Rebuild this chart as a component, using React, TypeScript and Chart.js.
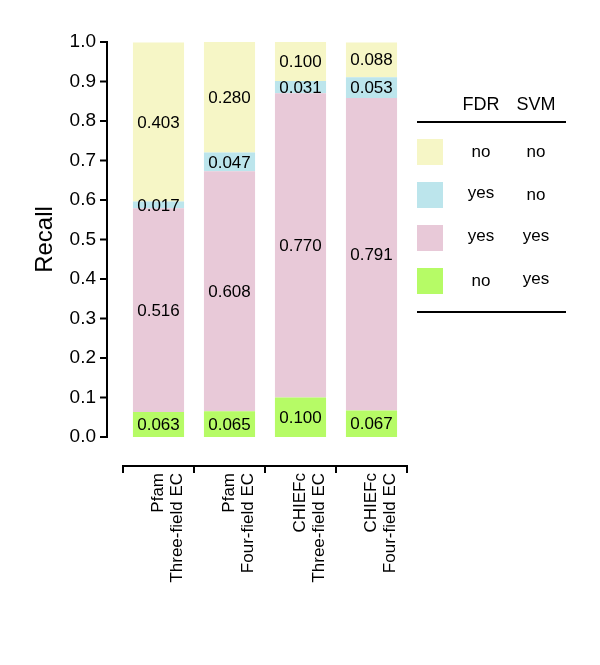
import React, { useEffect, useRef } from 'react';
import { Chart, registerables } from 'chart.js';
Chart.register(...registerables);

const categories = [
  ['Pfam', 'Three-field EC'],
  ['Pfam', 'Four-field EC'],
  ['CHIEFc', 'Three-field EC'],
  ['CHIEFc', 'Four-field EC'],
];
// stacked bottom to top
const fdrNoSvmYes = [0.063, 0.065, 0.1, 0.067];
const fdrYesSvmYes = [0.516, 0.608, 0.77, 0.791];
const fdrYesSvmNo = [0.017, 0.047, 0.031, 0.053];
const fdrNoSvmNo = [0.403, 0.28, 0.1, 0.088];

const legendFDR = ['no', 'yes', 'yes', 'no'];
const legendSVM = ['no', 'no', 'yes', 'yes'];
const legendColors = ['#f6f6c6', '#bce5ec', '#e8c9d8', '#b6fb66'];

const FONT = "'Liberation Sans', Arial, sans-serif";

const overlay = {
  id: 'overlay',
  afterDraw(chart: any) {
    const ctx = chart.ctx;
    const area = chart.chartArea;
    const yScale = chart.scales.y;
    const xScale = chart.scales.x;
    ctx.save();
    // value labels
    ctx.fillStyle = '#000';
    ctx.font = `17px ${FONT}`;
    ctx.textAlign = 'center';
    ctx.textBaseline = 'middle';
    chart.data.datasets.forEach((ds: any, di: number) => {
      const meta = chart.getDatasetMeta(di);
      meta.data.forEach((el: any, i: number) => {
        const cy = (el.y + el.base) / 2;
        ctx.fillText(Number(ds.data[i]).toFixed(3), el.x, cy + 1);
      });
    });
    // y axis line
    const ax = area.left - 16;
    ctx.strokeStyle = '#000';
    ctx.lineWidth = 2;
    ctx.beginPath();
    ctx.moveTo(ax, yScale.getPixelForValue(0) + 1);
    ctx.lineTo(ax, yScale.getPixelForValue(1) - 1);
    ctx.stroke();
    yScale.ticks.forEach((t: any) => {
      const py = yScale.getPixelForValue(t.value);
      ctx.beginPath();
      ctx.moveTo(ax - 7, py);
      ctx.lineTo(ax, py);
      ctx.stroke();
    });
    // x bracket
    const by = area.bottom + 29;
    const half = (xScale.getPixelForValue(1) - xScale.getPixelForValue(0)) / 2;
    ctx.beginPath();
    ctx.moveTo(xScale.getPixelForValue(0) - half - 1, by);
    ctx.lineTo(xScale.getPixelForValue(categories.length - 1) + half + 1, by);
    ctx.stroke();
    for (let i = 0; i <= categories.length; i++) {
      const px = xScale.getPixelForValue(0) - half + i * 2 * half;
      ctx.beginPath();
      ctx.moveTo(px, by - 1);
      ctx.lineTo(px, by + 7);
      ctx.stroke();
    }
    // legend table
    const lx = area.right + 10;
    const lw = 149;
    const c1 = lx + 64;
    const c2 = lx + 119;
    ctx.font = `18px ${FONT}`;
    ctx.textAlign = 'center';
    ctx.textBaseline = 'alphabetic';
    ctx.fillText('FDR', c1, 110);
    ctx.fillText('SVM', c2, 110);
    ctx.beginPath();
    ctx.moveTo(lx, 122);
    ctx.lineTo(lx + lw, 122);
    ctx.stroke();
    ctx.font = `17px ${FONT}`;
    for (let i = 0; i < legendColors.length; i++) {
      const cy = 152 + i * 43;
      ctx.fillStyle = legendColors[i];
      ctx.fillRect(lx, cy - 13, 26, 26);
      ctx.fillStyle = '#000';
      ctx.fillText(legendFDR[i], c1, cy + (legendFDR[i] === 'yes' ? 3 : 5));
      ctx.fillText(legendSVM[i], c2, cy + (legendSVM[i] === 'yes' ? 3 : 5));
    }
    ctx.beginPath();
    ctx.moveTo(lx, 312);
    ctx.lineTo(lx + lw, 312);
    ctx.stroke();
    ctx.restore();
  },
};

export default function App() {
  const ref = useRef<HTMLCanvasElement>(null);
  useEffect(() => {
    if (!ref.current) return;
    const chart = new Chart(ref.current, {
      type: 'bar',
      data: {
        labels: categories as any,
        datasets: [
          { label: 'FDR no, SVM yes', data: fdrNoSvmYes, backgroundColor: legendColors[3] },
          { label: 'FDR yes, SVM yes', data: fdrYesSvmYes, backgroundColor: legendColors[2] },
          { label: 'FDR yes, SVM no', data: fdrYesSvmNo, backgroundColor: legendColors[1] },
          { label: 'FDR no, SVM no', data: fdrNoSvmNo, backgroundColor: legendColors[0] },
        ],
      },
      options: {
        animation: false,
        responsive: true,
        maintainAspectRatio: false,
        layout: { padding: { top: 42, right: 193, left: 0, bottom: 0 } },
        plugins: { legend: { display: false }, tooltip: { enabled: false } },
        datasets: { bar: { categoryPercentage: 1, barPercentage: 0.72 } },
        scales: {
          x: {
            stacked: true,
            grid: { display: false, drawTicks: false },
            border: { display: false },
            ticks: {
              color: '#000',
              font: { family: FONT, size: 17, lineHeight: 1.1 },
              minRotation: 90,
              maxRotation: 90,
              padding: 36,
              autoSkip: false,
            },
            afterFit: (s: any) => { s.height = 228; },
          },
          y: {
            stacked: true,
            min: 0,
            max: 1,
            grid: { display: false, drawTicks: false },
            border: { display: false },
            ticks: {
              stepSize: 0.1,
              color: '#000',
              font: { family: FONT, size: 19 },
              padding: 27,
              callback: (v: any) => Number(v).toFixed(1),
            },
            title: {
              display: true,
              text: 'Recall',
              color: '#000',
              font: { family: FONT, size: 24 },
              padding: { top: 31, bottom: 0 },
            },
            afterFit: (s: any) => { s.width = 123; },
          },
        },
      },
      plugins: [overlay],
    });
    return () => chart.destroy();
  }, []);
  return (
    <div style={{ position: 'absolute', left: 0, top: 0, width: 600, height: 665 }}>
      <canvas ref={ref} />
    </div>
  );
}
